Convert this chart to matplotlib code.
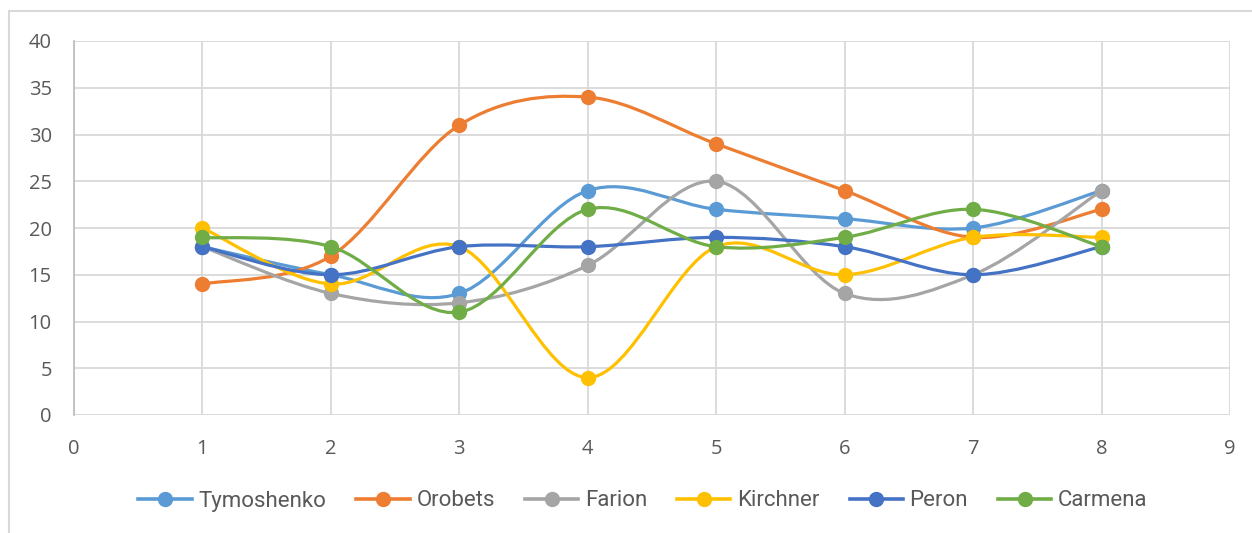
import numpy as np
import matplotlib
matplotlib.use("Agg")
import matplotlib.pyplot as plt
from matplotlib.path import Path
from matplotlib.patches import PathPatch, Rectangle
from matplotlib.lines import Line2D

x_values = [1, 2, 3, 4, 5, 6, 7, 8]
series_names = ["Tymoshenko", "Orobets", "Farion", "Kirchner", "Peron", "Carmena"]
tymoshenko = [18, 15, 13, 24, 22, 21, 20, 24]
orobets = [14, 17, 31, 34, 29, 24, 19, 22]
farion = [18, 13, 12, 16, 25, 13, 15, 24]
kirchner = [20, 14, 18, 4, 18, 15, 19, 19]
peron = [18, 15, 18, 18, 19, 18, 15, 18]
carmena = [19, 18, 11, 22, 18, 19, 22, 18]
series_values = [tymoshenko, orobets, farion, kirchner, peron, carmena]
colors = ["#5B9BD5", "#ED7D31", "#A5A5A5", "#FFC000", "#4472C4", "#70AD47"]
x_ticks = list(range(0, 10))
y_ticks = list(range(0, 45, 5))

plt.rcParams["font.family"] = ["Open Sans", "DejaVu Sans"]

fig = plt.figure(figsize=(12.52, 5.33), dpi=100)
fig.patch.set_facecolor("white")
ax = fig.add_axes([74 / 1252, 1 - 415 / 533, (1230 - 74) / 1252, (415 - 41) / 533])

# outer chart frame
fig.patches.append(Rectangle((9 / 1252, -0.1), 1.2, 1 - 11 / 533 + 0.1,
                             transform=fig.transFigure, fill=False,
                             edgecolor="#D9D9D9", linewidth=1.5, zorder=0))


def smooth_path(xs, ys):
    """Bezier path through the points, in the style of spreadsheet smoothed lines."""
    pts = np.column_stack([xs, ys]).astype(float)
    n = len(pts)
    verts = [pts[0]]
    codes = [Path.MOVETO]
    for i in range(n - 1):
        p_prev = pts[i - 1] if i > 0 else pts[i]
        p0 = pts[i]
        p1 = pts[i + 1]
        p_next = pts[i + 2] if i + 2 < n else pts[i + 1]
        c1 = p0 + (p1 - p_prev) / 6.0
        c2 = p1 - (p_next - p0) / 6.0
        verts.extend([c1, c2, p1])
        codes.extend([Path.CURVE4] * 3)
    return Path(verts, codes)


for k, (name, vals, col) in enumerate(zip(series_names, series_values, colors)):
    patch = PathPatch(smooth_path(x_values, vals), facecolor="none", edgecolor=col,
                      linewidth=2.3, capstyle="round", zorder=3 + k)
    ax.add_patch(patch)
    ax.plot(x_values, vals, linestyle="none", marker="o", markersize=10,
            color=col, zorder=3 + k)

ax.set_xlim(0, 9)
ax.set_ylim(0, 40)
ax.set_xticks(x_ticks)
ax.set_yticks(y_ticks)
ax.grid(True, color="#D9D9D9", linewidth=1.3)
ax.set_axisbelow(True)
for side in ["top", "right", "bottom"]:
    ax.spines[side].set_visible(False)
ax.spines["left"].set_color("#BFBFBF")
ax.spines["left"].set_linewidth(1.3)
ax.tick_params(axis="both", length=0, labelsize=14.5, labelcolor="#595959")
ax.tick_params(axis="y", pad=16)
ax.tick_params(axis="x", pad=17)

handles = [Line2D([], [], color=c, linewidth=2.6, marker="o", markersize=10) for c in colors]
leg = fig.legend(handles, series_names, loc="center", bbox_to_anchor=(643 / 1252, 1 - 501 / 533),
                 ncol=6, frameon=False, handlelength=2.4, handletextpad=0.3,
                 columnspacing=1.35, labelcolor="#595959",
                 prop={"family": ["Roboto", "DejaVu Sans"], "size": 16})

fig.savefig("out.png", dpi=100, facecolor="white")
